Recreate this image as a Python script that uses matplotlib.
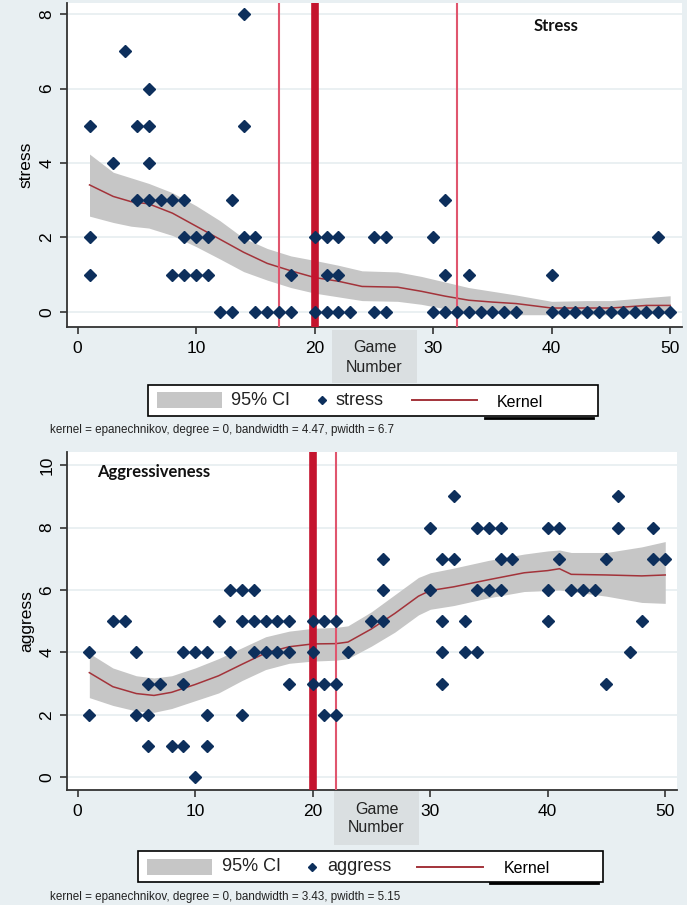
import matplotlib
matplotlib.use('Agg')
import matplotlib.pyplot as plt
from matplotlib.patches import Rectangle
from matplotlib.lines import Line2D

plt.rcParams['font.family'] = ['Liberation Sans', 'DejaVu Sans']

# ---- stress panel data ----
stress_x = [1, 1, 1, 3, 4, 5, 5, 6, 6, 6, 6, 7, 8, 8, 9, 9, 9, 10, 10, 11, 11, 12, 13, 13,
            14, 14, 14, 15, 15, 16, 17, 18, 18, 20, 20, 21, 21, 21, 22, 22, 22, 23, 25, 25,
            26, 26, 30, 30, 31, 31, 31, 32, 33, 33, 34, 35, 36, 37, 40, 40, 41, 42, 43, 44,
            45, 46, 47, 48, 49, 49, 50]
stress_y = [5, 2, 1, 4, 7, 5, 3, 6, 5, 4, 3, 3, 3, 1, 3, 2, 1, 2, 1, 2, 1, 0, 3, 0,
            8, 5, 2, 2, 0, 0, 0, 1, 0, 2, 0, 2, 1, 0, 2, 1, 0, 0, 2, 0,
            2, 0, 2, 0, 3, 1, 0, 0, 1, 0, 0, 0, 0, 0, 1, 0, 0, 0, 0, 0,
            0, 0, 0, 0, 2, 0, 0]

stress_kx = [1, 3, 4.5, 6, 8, 10, 12, 14, 16, 18, 20, 22, 24, 27, 29, 31, 33, 35, 37, 40, 43, 45, 48, 50]
stress_fit = [3.41, 3.1, 2.96, 2.9, 2.65, 2.3, 1.95, 1.6, 1.3, 1.1, 0.92, 0.82, 0.68, 0.66, 0.55,
              0.42, 0.31, 0.26, 0.22, 0.1, 0.1, 0.1, 0.17, 0.17]
stress_hi = [4.24, 3.75, 3.6, 3.45, 3.2, 2.85, 2.45, 1.98, 1.7, 1.5, 1.38, 1.25, 1.1, 1.07, 0.95,
             0.8, 0.65, 0.55, 0.45, 0.28, 0.3, 0.3, 0.38, 0.43]
stress_lo = [2.57, 2.4, 2.3, 2.25, 2.05, 1.75, 1.42, 1.08, 0.85, 0.65, 0.5, 0.4, 0.3, 0.28, 0.2,
             0.08, 0.0, -0.03, -0.08, -0.08, -0.08, -0.08, -0.05, -0.05]
stress_lines = [17, 20, 32]

# ---- aggressiveness panel data ----
aggr_x = [1, 1, 3, 4, 5, 5, 6, 6, 6, 7, 8, 9, 9, 9, 10, 10, 11, 11, 11, 12, 13, 13,
          14, 14, 14, 15, 15, 15, 16, 16, 17, 17, 18, 18, 18, 20, 20, 20, 21, 21, 21,
          22, 22, 22, 23, 25, 26, 26, 26, 30, 30, 31, 31, 31, 31, 32, 32, 33, 33,
          34, 34, 34, 35, 35, 36, 36, 36, 37, 40, 40, 40, 41, 41, 42, 43, 44, 45, 45,
          46, 46, 47, 48, 49, 49, 50]
aggr_y = [4, 2, 5, 5, 4, 2, 3, 2, 1, 3, 1, 4, 3, 1, 4, 0, 4, 2, 1, 5, 6, 4,
          6, 5, 2, 6, 5, 4, 5, 4, 5, 4, 5, 4, 3, 5, 4, 3, 5, 3, 2,
          5, 3, 2, 4, 5, 7, 6, 5, 8, 6, 7, 5, 4, 3, 9, 7, 5, 4,
          8, 6, 4, 8, 6, 8, 7, 6, 7, 8, 6, 5, 8, 7, 6, 6, 6, 7, 3,
          9, 8, 4, 5, 8, 7, 7]

aggr_kx = [1, 3, 5, 6.5, 8, 10, 12, 14, 16, 18, 20, 22, 23, 25, 27, 29, 30, 32, 35, 38,
           40, 41, 42, 45, 48, 50]
aggr_fit = [3.35, 2.9, 2.68, 2.62, 2.72, 2.97, 3.25, 3.62, 3.98, 4.18, 4.27, 4.28, 4.33,
            4.75, 5.25, 5.8, 5.98, 6.1, 6.33, 6.55, 6.62, 6.68, 6.5, 6.48, 6.45, 6.48]
aggr_hi = [3.97, 3.5, 3.25, 3.18, 3.25, 3.5, 3.8, 4.15, 4.5, 4.68, 4.77, 4.8, 4.85, 5.3,
           5.85, 6.4, 6.55, 6.7, 6.95, 7.15, 7.25, 7.28, 7.2, 7.2, 7.38, 7.55]
aggr_lo = [2.55, 2.3, 2.12, 2.08, 2.2, 2.45, 2.7, 3.1, 3.45, 3.65, 3.72, 3.75, 3.8, 4.2,
           4.65, 5.2, 5.38, 5.5, 5.75, 5.95, 5.98, 6.0, 5.95, 5.8, 5.6, 5.57]
aggr_lines = [20, 22]

x_ticks = [0, 10, 20, 30, 40, 50]

BG = '#e8eff2'
NAVY = '#0d2f5c'
KCOL = '#a3333a'
CICOL = '#c6c6c6'
W, H = 687, 905


def fx(px):
    return px / W


def fy(py):
    return 1 - py / H


def draw_panel(ax, xs, ys, kx, fit, lo, hi, vlines, thick_at, yticks, ylim, ylabel, title, title_xy):
    ax.set_facecolor('white')
    for t in yticks:
        ax.axhline(t, color='#e6edf0', lw=1.2, zorder=0)
    ax.fill_between(kx, lo, hi, color=CICOL, lw=0, zorder=1)
    ax.plot(kx, fit, color=KCOL, lw=1.1, zorder=2)
    for v in vlines:
        if v == thick_at:
            ax.axvline(v, color='#c4142e', lw=5.5, zorder=3)
        else:
            ax.axvline(v, color='#e0566e', lw=1.5, zorder=3)
    ax.plot(xs, ys, 'D', color=NAVY, markersize=6, ls='none', zorder=4)
    ax.set_xlim(-0.9, 51.0)
    ax.set_ylim(*ylim)
    ax.set_xticks(x_ticks)
    ax.set_yticks(yticks)
    ax.tick_params(axis='x', length=5, width=1.2, color='#333333', labelsize=12.5, pad=5)
    ax.tick_params(axis='y', length=5, width=1.2, color='#333333', labelsize=12.5, pad=4)
    for lab in ax.get_yticklabels():
        lab.set_rotation(90)
        lab.set_va('center')
    ax.spines['top'].set_visible(False)
    ax.spines['right'].set_visible(False)
    ax.spines['left'].set_color('#333333')
    ax.spines['bottom'].set_color('#333333')
    ax.spines['left'].set_linewidth(1.3)
    ax.spines['bottom'].set_linewidth(1.3)
    ax.set_ylabel(ylabel, fontsize=12.5, labelpad=4)
    ax.text(title_xy[0], title_xy[1], title, fontsize=12, fontweight='bold',
            family=['Lato', 'DejaVu Sans'], ha='center', va='center', color='#111111')


def draw_legend(fig, label, box, patch, ci_x, dia_x, lab_x, line, kern_x, uline):
    # box = (x0, y0, x1, y1) in pixels
    x0, y0, x1, y1 = box
    yc = (y0 + y1) / 2
    fig.add_artist(Rectangle((fx(x0), fy(y1)), fx(x1) - fx(x0), fy(y0) - fy(y1),
                             transform=fig.transFigure, facecolor='white',
                             edgecolor='black', lw=1.2))
    fig.add_artist(Rectangle((fx(patch[0]), fy(yc + 8)), fx(patch[1]) - fx(patch[0]), 16 / H,
                             transform=fig.transFigure, facecolor=CICOL, edgecolor='none'))
    fig.text(fx(ci_x), fy(yc), '95% CI', fontsize=13, va='center', ha='left', color='#222222')
    fig.add_artist(Line2D([fx(dia_x)], [fy(yc)], marker='D', markersize=4.5, color=NAVY,
                          transform=fig.transFigure))
    fig.text(fx(lab_x), fy(yc), label, fontsize=13, va='center', ha='left', color='#222222')
    fig.add_artist(Line2D([fx(line[0]), fx(line[1])], [fy(yc), fy(yc)], color=KCOL, lw=1.4,
                          transform=fig.transFigure))
    fig.text(fx(kern_x), fy(yc + 2), 'Kernel', fontsize=11.5, va='center', ha='left', color='black')
    fig.add_artist(Line2D([fx(uline[0]), fx(uline[1])], [fy(uline[2]), fy(uline[2])],
                          transform=fig.transFigure, color='black', lw=2))


fig = plt.figure(figsize=(6.87, 9.05), dpi=100)
fig.patch.set_facecolor(BG)

ax1 = fig.add_axes([fx(67), fy(327), 615 / W, 324 / H])
draw_panel(ax1, stress_x, stress_y, stress_kx, stress_fit, stress_lo, stress_hi,
           stress_lines, 20, [0, 2, 4, 6, 8], (-0.41, 8.3), 'stress', 'Stress', (40.4, 7.68))

ax2 = fig.add_axes([fx(67), fy(790), 610 / W, 338 / H])
draw_panel(ax2, aggr_x, aggr_y, aggr_kx, aggr_fit, aggr_lo, aggr_hi,
           aggr_lines, 20, [0, 2, 4, 6, 8, 10], (-0.41, 10.42), 'aggress', 'Aggressiveness', (6.45, 9.78))

# x-axis title boxes
for (bx0, by0, bx1, by1) in [(332, 330, 417, 383), (334, 791, 419, 845)]:
    fig.add_artist(Rectangle((fx(bx0), fy(by1)), fx(bx1) - fx(bx0), fy(by0) - fy(by1),
                             transform=fig.transFigure, facecolor='#dadfe1', edgecolor='none',
                             zorder=0))
    fig.text(fx((bx0 + bx1) / 2), fy(by0 + 18), 'Game', ha='center', va='center',
             fontsize=11.5, color='#222222')
    fig.text(fx((bx0 + bx1) / 2), fy(by0 + 37), 'Number', ha='center', va='center',
             fontsize=11.5, color='#222222')

draw_legend(fig, 'stress', (148, 385, 598, 416), (157, 222), 231, 322, 336, (412, 477), 497,
            (485, 593, 418))
draw_legend(fig, 'aggress', (138, 851, 603, 882), (147, 212), 222, 312, 327, (417, 483), 504,
            (490, 598, 883))

fig.text(fx(50), fy(430), 'kernel = epanechnikov, degree = 0, bandwidth = 4.47, pwidth = 6.7',
         fontsize=8.4, va='center', color='#222222')
fig.text(fx(50), fy(897), 'kernel = epanechnikov, degree = 0, bandwidth = 3.43, pwidth = 5.15',
         fontsize=8.4, va='center', color='#222222')

fig.savefig('out.png', dpi=100, facecolor=BG)
